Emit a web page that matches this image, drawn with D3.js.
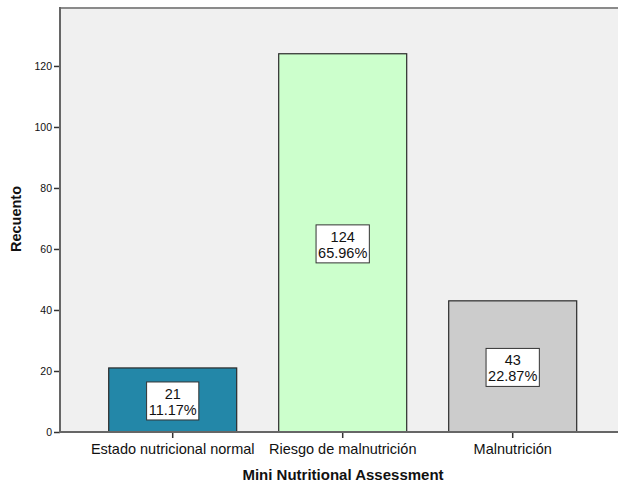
<!DOCTYPE html>
<html>
<head>
<meta charset="utf-8">
<script src="https://cdn.jsdelivr.net/npm/d3@7"></script>
<style>
  html, body { margin: 0; padding: 0; background: #fff; }
  svg { display: block; font-family: "Liberation Sans", Arial, sans-serif; }
</style>
</head>
<body>
<svg id="chart" width="618" height="485"></svg>
<script>
const categories = ["Estado nutricional normal", "Riesgo de malnutrición", "Malnutrición"];
const counts = [21, 124, 43];
const percents = ["11.17%", "65.96%", "22.87%"];
const barColors = ["#2387a8", "#ccffcc", "#cccccc"];
const yTicks = [0, 20, 40, 60, 80, 100, 120];
const yTitle = "Recuento";
const xTitle = "Mini Nutritional Assessment";

const svg = d3.select("#chart");
const plot = { left: 60, right: 618, top: 8, bottom: 432 };

const x = d3.scaleBand()
  .domain(categories)
  .range([87.7, 597.7])
  .paddingInner(42 / 170)
  .paddingOuter(21 / 170);

const y = d3.scaleLinear().domain([0, 139]).range([plot.bottom, plot.top]);

// plot background
svg.append("rect")
  .attr("x", plot.left).attr("y", plot.top)
  .attr("width", plot.right - plot.left).attr("height", plot.bottom - plot.top)
  .attr("fill", "#f0f0f0");

// top border
svg.append("line")
  .attr("x1", plot.left).attr("x2", plot.right)
  .attr("y1", plot.top).attr("y2", plot.top)
  .attr("stroke", "#8a8a8a").attr("stroke-width", 2);

// bars
svg.selectAll("rect.bar").data(categories).enter().append("rect")
  .attr("class", "bar")
  .attr("x", d => x(d))
  .attr("y", (d, i) => y(counts[i]))
  .attr("width", x.bandwidth())
  .attr("height", (d, i) => y(0) - y(counts[i]))
  .attr("fill", (d, i) => barColors[i])
  .attr("stroke", "#2a2a2a")
  .attr("stroke-width", 1.2);

// y axis
const yAxis = d3.axisLeft(y).tickValues(yTicks).tickSize(6).tickPadding(2).tickSizeOuter(0);
const gy = svg.append("g").attr("transform", `translate(${plot.left},0)`).call(yAxis);
gy.select(".domain").remove();
gy.selectAll(".tick line").attr("stroke", "#333").attr("stroke-width", 1.5);
gy.selectAll(".tick text").attr("font-size", "10.5px").attr("fill", "#111")
  .attr("font-family", "Liberation Sans, Arial, sans-serif");
svg.append("line")
  .attr("x1", plot.left).attr("x2", plot.left)
  .attr("y1", plot.top - 1).attr("y2", plot.bottom + 1)
  .attr("stroke", "#666").attr("stroke-width", 2);

// x axis
const xAxis = d3.axisBottom(x).tickSize(6).tickPadding(6).tickSizeOuter(0);
const gx = svg.append("g").attr("transform", `translate(0,${plot.bottom})`).call(xAxis);
gx.select(".domain").remove();
gx.selectAll(".tick line").attr("stroke", "#333").attr("stroke-width", 1.5);
gx.selectAll(".tick text").attr("font-size", "14.5px").attr("fill", "#111")
  .attr("font-family", "Liberation Sans, Arial, sans-serif");
svg.append("line")
  .attr("x1", plot.left - 1).attr("x2", plot.right)
  .attr("y1", plot.bottom).attr("y2", plot.bottom)
  .attr("stroke", "#666").attr("stroke-width", 2);

// value labels
categories.forEach((c, i) => {
  const cx = x(c) + x.bandwidth() / 2;
  const cy = (y(counts[i]) + y(0)) / 2 + 1;
  const g = svg.append("g");
  const box = g.append("rect").attr("fill", "#fff").attr("stroke", "#333").attr("stroke-width", 1);
  const t1 = g.append("text").attr("x", cx).attr("y", cy - 2).attr("text-anchor", "middle")
    .attr("font-size", "14.5px").attr("fill", "#111").text(counts[i]);
  const t2 = g.append("text").attr("x", cx).attr("y", cy + 14).attr("text-anchor", "middle")
    .attr("font-size", "14.5px").attr("fill", "#111").text(percents[i]);
  const w = Math.max(t1.node().getBBox().width, t2.node().getBBox().width) + 4;
  box.attr("x", cx - w / 2).attr("y", cy - 19).attr("width", w).attr("height", 38);
});

// axis titles
svg.append("text")
  .attr("x", (plot.left + plot.right) / 2 + 4).attr("y", 480)
  .attr("text-anchor", "middle").attr("font-size", "15px").attr("font-weight", "bold")
  .attr("fill", "#111").text(xTitle);
svg.append("text")
  .attr("transform", "translate(21,219) rotate(-90)")
  .attr("text-anchor", "middle").attr("font-size", "14.5px").attr("font-weight", "bold")
  .attr("fill", "#111").text(yTitle);
</script>
</body>
</html>
